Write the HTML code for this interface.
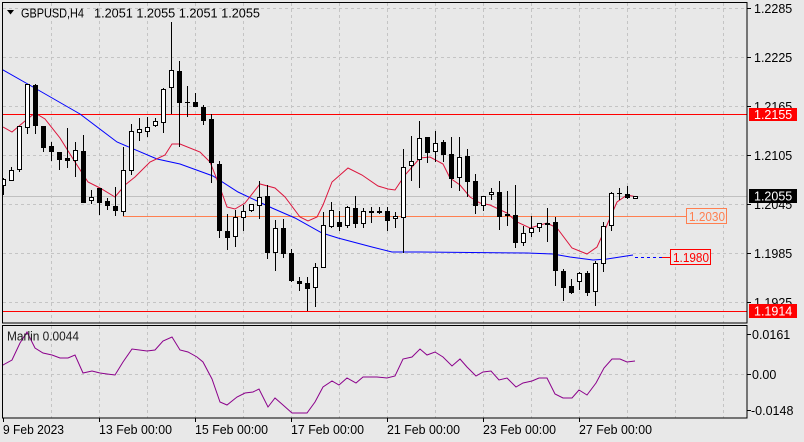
<!DOCTYPE html>
<html><head><meta charset="utf-8"><style>
html,body{margin:0;padding:0;background:#e8e8e8;}
svg{display:block;font-family:"Liberation Sans",sans-serif;font-size:12.5px;}
.g{stroke:#c4c4c4;stroke-width:1;stroke-dasharray:3,3;fill:none;}
.wk{stroke:#000;stroke-width:1;}
.w{fill:#fff;stroke:#000;stroke-width:1;}
.b{fill:#000;}
</style></head><body>
<svg width="804" height="442" viewBox="0 0 804 442" xmlns="http://www.w3.org/2000/svg">
<defs><clipPath id="cp"><rect x="2.5" y="2.5" width="744.5" height="320.5"/></clipPath>
<clipPath id="ci"><rect x="2.5" y="325.5" width="744.5" height="92.5"/></clipPath></defs>
<rect width="804" height="442" fill="#e8e8e8"/>
<!-- grid main -->
<g class="g">
<path d="M3 8.5H747M3 57.5H747M3 106.5H747M3 155.5H747M3 204.5H747M3 253.5H747M3 302.5H747"/>
<path d="M51.5 3V323M99.5 3V323M147.5 3V323M195.5 3V323M243.5 3V323M291.5 3V323M339.5 3V323M387.5 3V323M435.5 3V323M483.5 3V323M531.5 3V323M579.5 3V323M627.5 3V323M675.5 3V323M723.5 3V323"/>
<path d="M3 374.5H747"/>
<path d="M51.5 326V418M99.5 326V418M147.5 326V418M195.5 326V418M243.5 326V418M291.5 326V418M339.5 326V418M387.5 326V418M435.5 326V418M483.5 326V418M531.5 326V418M579.5 326V418M627.5 326V418M675.5 326V418M723.5 326V418"/>
</g>
<g clip-path="url(#cp)">
<line x1="2" y1="196.5" x2="747" y2="196.5" stroke="#c0c0c0"/>
<line x1="2" y1="114.5" x2="747" y2="114.5" stroke="#ff0000"/>
<line x1="2" y1="311.5" x2="747" y2="311.5" stroke="#ff0000"/>
<line x1="123" y1="216.5" x2="686" y2="216.5" stroke="#ff7f50"/>
<polyline fill="none" stroke="#0000ff" stroke-width="1" points="0,69 3,70 33,87 80,114 117,142 157,159 180,164 213,176 238,192 272,208 295,218 322,233 338,238 372,247 392,252 420,252 527,253 553,254 570,257 593,260 607,259 620,257 633,255"/>
<line x1="635" y1="257.5" x2="662" y2="257.5" stroke="#0000ff" stroke-dasharray="3,3"/>
<line x1="662" y1="257.5" x2="670" y2="257.5" stroke="#ff0000"/>
<polyline fill="none" stroke="#dc143c" stroke-width="1" points="3,127 12,132 25,121 35,113 45,119 60,138 75,162 88,182 100,188 115,197 125,185 135,177 150,162 165,155 172,144 180,144 200,152 210,162 218,182 227,207 235,209 245,203 260,184 275,188 285,197 300,217 308,221 317,217 323,205 332,182 348,168 362,175 378,186 388,189 395,190 405,175 420,158 430,157 443,164 450,178 460,185 470,197 480,203 490,205 507,213 517,222 530,228 547,223 557,228 572,248 587,254 597,247 607,225 617,202 627,195 637,197"/>
<!-- candles -->
<path class="wk" d="M3.5 178V195M11.5 167V181M19.5 126V172M27.5 84V134M35.5 84V134M43.5 126V152M51.5 142V161M59.5 152V170M67.5 128V168M75.5 142V177M83.5 135V203M91.5 190V204M99.5 188V215M107.5 198V210M115.5 187V216M123.5 147V216M131.5 124V175M139.5 118V141M147.5 117V137M155.5 118V127M163.5 88V133M171.5 22V114M179.5 61V147M187.5 86V117M195.5 93V107M203.5 105V125M211.5 114V183M219.5 161V238M227.5 214V250M235.5 210V247M243.5 205V231M251.5 204V212M259.5 181V219M267.5 185V259M275.5 220V271M283.5 219V258M291.5 249V282M299.5 277V291M307.5 277V311M315.5 263V307M323.5 212V268M331.5 202V228M339.5 211V231M347.5 206V228M355.5 196V228M363.5 208V228M371.5 207V223M379.5 207V214M387.5 207V231M395.5 212V228M403.5 149V253M411.5 136V181M419.5 121V188M427.5 137V163M435.5 131V162M443.5 140V162M451.5 137V188M459.5 137V191M467.5 149V197M475.5 174V214M483.5 196V211M491.5 188V200M499.5 181V230M507.5 191V226M515.5 185V248M523.5 226V246M531.5 216V237M539.5 223V232M547.5 208V242M555.5 217V286M563.5 269V301M571.5 279V294M579.5 272V290M587.5 271V296M595.5 261V306M603.5 222V272M611.5 192V231M619.5 188V200M627.5 186V199M635.5 196V199"/>
<path class="wk" d="M185 102.5H190M617 193.5H622"/>
<g class="b">
<rect x="33" y="85" width="5" height="41"/><rect x="41" y="126" width="5" height="22"/><rect x="49" y="146" width="5" height="6"/><rect x="57" y="152" width="5" height="8"/><rect x="65" y="158" width="5" height="3"/><rect x="81" y="151" width="5" height="52"/><rect x="97" y="188" width="5" height="15"/><rect x="105" y="201" width="5" height="5"/><rect x="113" y="206" width="5" height="5"/><rect x="177" y="71" width="5" height="32"/><rect x="193" y="102" width="5" height="5"/><rect x="201" y="107" width="5" height="14"/><rect x="209" y="119" width="5" height="44"/><rect x="217" y="164" width="5" height="67"/><rect x="225" y="231" width="5" height="7"/><rect x="265" y="196" width="5" height="57"/><rect x="281" y="228" width="5" height="26"/><rect x="289" y="253" width="5" height="28"/><rect x="297" y="281" width="5" height="3"/><rect x="305" y="283" width="5" height="6"/><rect x="337" y="222" width="5" height="5"/><rect x="353" y="208" width="5" height="16"/><rect x="369" y="211" width="5" height="2"/><rect x="377" y="211" width="5" height="2"/><rect x="385" y="211" width="5" height="10"/><rect x="425" y="137" width="5" height="16"/><rect x="441" y="142" width="5" height="13"/><rect x="449" y="154" width="5" height="25"/><rect x="465" y="156" width="5" height="26"/><rect x="473" y="181" width="5" height="25"/><rect x="497" y="192" width="5" height="25"/><rect x="505" y="214" width="5" height="2"/><rect x="513" y="215" width="5" height="28"/><rect x="545" y="223" width="5" height="2"/><rect x="553" y="222" width="5" height="49"/><rect x="561" y="271" width="5" height="17"/><rect x="569" y="286" width="5" height="7"/><rect x="585" y="273" width="5" height="20"/><rect x="625" y="194" width="5" height="4"/>
</g>
<g class="w">
<rect x="1.5" y="179.5" width="4" height="6"/><rect x="9.5" y="170.5" width="4" height="10"/><rect x="17.5" y="126.5" width="4" height="43"/><rect x="25.5" y="84.5" width="4" height="43"/><rect x="73.5" y="150.5" width="4" height="10"/><rect x="89.5" y="197.5" width="4" height="3"/><rect x="121.5" y="170.5" width="4" height="41"/><rect x="129.5" y="131.5" width="4" height="39"/><rect x="137.5" y="129.5" width="4" height="3"/><rect x="145.5" y="127.5" width="4" height="4"/><rect x="153.5" y="121.5" width="4" height="4"/><rect x="161.5" y="89.5" width="4" height="33"/><rect x="169.5" y="70.5" width="4" height="17"/><rect x="233.5" y="217.5" width="4" height="19"/><rect x="241.5" y="211.5" width="4" height="6"/><rect x="249.5" y="204.5" width="4" height="6"/><rect x="257.5" y="197.5" width="4" height="8"/><rect x="273.5" y="228.5" width="4" height="24"/><rect x="313.5" y="267.5" width="4" height="20"/><rect x="321.5" y="225.5" width="4" height="42"/><rect x="329.5" y="210.5" width="4" height="16"/><rect x="345.5" y="207.5" width="4" height="18"/><rect x="361.5" y="211.5" width="4" height="12"/><rect x="393.5" y="216.5" width="4" height="2"/><rect x="401.5" y="167.5" width="4" height="50"/><rect x="409.5" y="161.5" width="4" height="4"/><rect x="417.5" y="138.5" width="4" height="21"/><rect x="433.5" y="143.5" width="4" height="8"/><rect x="457.5" y="157.5" width="4" height="20"/><rect x="481.5" y="196.5" width="4" height="9"/><rect x="489.5" y="192.5" width="4" height="2"/><rect x="521.5" y="233.5" width="4" height="9"/><rect x="529.5" y="228.5" width="4" height="4"/><rect x="537.5" y="223.5" width="4" height="4"/><rect x="577.5" y="273.5" width="4" height="8"/><rect x="593.5" y="263.5" width="4" height="28"/><rect x="601.5" y="226.5" width="4" height="37"/><rect x="609.5" y="193.5" width="4" height="32"/><rect x="633.5" y="196.5" width="4" height="2"/>
</g>
</g>
<!-- level boxes -->
<rect x="686.5" y="208.5" width="40" height="15" fill="#e8e8e8" stroke="#ff7f50"/>
<text x="689" y="221" fill="#ff7f50" textLength="36" lengthAdjust="spacingAndGlyphs">1.2030</text>
<rect x="670.5" y="249.5" width="40" height="15" fill="#e8e8e8" stroke="#ff0000"/>
<text x="673" y="262" fill="#ff0000" textLength="36" lengthAdjust="spacingAndGlyphs">1.1980</text>
<!-- indicator -->
<g clip-path="url(#ci)">
<polyline fill="none" stroke="#8b008b" stroke-width="1" points="2,366 3,365 12,360 20,343 27,332 35,348 43,353 52,355 60,358 68,358 75,355 83,373 92,371 100,373 107,374 115,375 123,362 132,349 147,351 155,350 163,341 172,337 180,350 188,352 197,357 203,362 212,379 220,402 227,405 237,397 245,393 253,392 259,389 268,407 275,398 283,405 292,413 307,413 315,402 323,387 332,381 339,385 347,378 356,383 363,377 377,377 387,378 395,376 403,359 412,357 420,349 427,355 435,352 443,357 452,366 460,359 467,367 476,376 483,372 491,371 499,380 507,378 516,387 523,383 532,381 539,378 547,378 555,394 563,398 572,398 579,390 587,395 596,383 604,368 612,359 620,359 627,362 635,361"/>
</g>
<text x="7" y="340.5" fill="#1a1a1a" textLength="72" lengthAdjust="spacingAndGlyphs">Marlin 0.0044</text>
<!-- borders -->
<rect x="2.5" y="2.5" width="744.5" height="320.5" fill="none" stroke="#000"/>
<rect x="2.5" y="325.5" width="744.5" height="92.5" fill="none" stroke="#000"/>
<!-- header -->
<path d="M7 10H14L10.5 14.5Z" fill="#000"/>
<text x="21" y="17.5" fill="#000" textLength="63" lengthAdjust="spacingAndGlyphs">GBPUSD,H4</text>
<text x="94" y="17.5" fill="#000" textLength="166" lengthAdjust="spacingAndGlyphs">1.2051 1.2055 1.2051 1.2055</text>
<!-- right axis ticks -->
<path stroke="#000" d="M747 8.5H751M747 57.5H751M747 106.5H751M747 155.5H751M747 204.5H751M747 253.5H751M747 302.5H751M747 334.5H751M747 374.5H751M747 410.5H751"/>
<g fill="#000">
<text x="754" y="13">1.2285</text>
<text x="754" y="62">1.2225</text>
<text x="754" y="111">1.2165</text>
<text x="754" y="160">1.2105</text>
<text x="754" y="209">1.2045</text>
<text x="754" y="258">1.1985</text>
<text x="754" y="307">1.1925</text>
<text x="752" y="339">0.0161</text>
<text x="752" y="379">0.00</text>
<text x="751" y="415">-0.0148</text>
</g>
<rect x="749" y="108" width="48" height="13" fill="#ff0000"/>
<text x="754" y="119" fill="#fff">1.2155</text>
<rect x="749" y="189" width="48" height="14" fill="#000"/>
<text x="754" y="200.5" fill="#fff">1.2055</text>
<rect x="749" y="304" width="48" height="14" fill="#ff0000"/>
<text x="754" y="315.5" fill="#fff">1.1914</text>
<!-- time axis -->
<path stroke="#000" d="M3.5 418V422M99.5 418V422M195.5 418V422M291.5 418V422M387.5 418V422M483.5 418V422M579.5 418V422"/>
<g fill="#000">
<text x="3" y="434" textLength="61" lengthAdjust="spacingAndGlyphs">9 Feb 2023</text>
<text x="99" y="434" textLength="73" lengthAdjust="spacingAndGlyphs">13 Feb 00:00</text>
<text x="195" y="434" textLength="73" lengthAdjust="spacingAndGlyphs">15 Feb 00:00</text>
<text x="291" y="434" textLength="73" lengthAdjust="spacingAndGlyphs">17 Feb 00:00</text>
<text x="387" y="434" textLength="73" lengthAdjust="spacingAndGlyphs">21 Feb 00:00</text>
<text x="483" y="434" textLength="73" lengthAdjust="spacingAndGlyphs">23 Feb 00:00</text>
<text x="579" y="434" textLength="73" lengthAdjust="spacingAndGlyphs">27 Feb 00:00</text>
</g>
</svg>
</body></html>
